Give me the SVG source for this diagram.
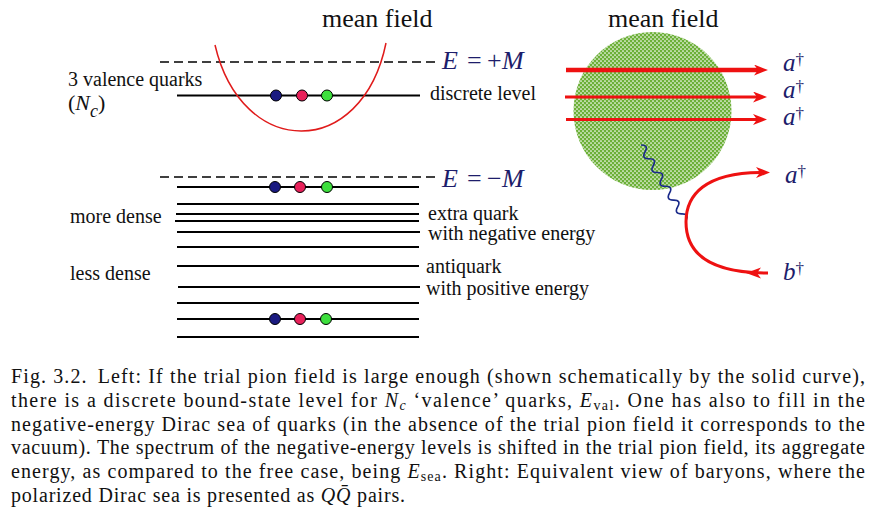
<svg xmlns="http://www.w3.org/2000/svg" width="877" height="518" viewBox="0 0 877 518">
<style>
.t{font-family:"Liberation Serif","Times New Roman",serif;fill:#111}
.lab{font-size:20px}
.ttl{font-size:26px}
.math{font-family:"Liberation Serif","Times New Roman",serif;fill:#1d1d6b}
.it{font-style:italic}
.lvl{stroke:#000;stroke-width:2.2;fill:none}
.dash{stroke:#000;stroke-width:1.3;stroke-dasharray:9 5;fill:none}
.ra{stroke:#ee1111;fill:none}
.cap{font-family:"Liberation Serif","Times New Roman",serif;font-size:20px;fill:#111}
.ad{font-size:25px}
</style>
<defs>
<pattern id="dots" width="4" height="4" patternUnits="userSpaceOnUse">
<rect width="4" height="4" fill="#6cb038"/>
<circle cx="1" cy="1" r="0.85" fill="#fff"/>
<circle cx="3" cy="3" r="0.85" fill="#fff"/>
</pattern>
<marker id="ah" markerUnits="userSpaceOnUse" viewBox="0 0 14 11" markerWidth="14" markerHeight="11" refX="4" refY="5.5" orient="auto">
<path d="M0,0 L14,5.5 L0,11 L4,5.5 z" fill="#ee1111"/>
</marker>
</defs>
<rect width="877" height="518" fill="#fff"/>

<g id="left-title"><text class="t ttl" x="322" y="27">mean field</text></g>

<g id="levels">
<line class="dash" x1="160" y1="62" x2="437" y2="62"/>
<line class="lvl" x1="177" y1="95.5" x2="420" y2="95.5"/>
<line class="dash" x1="160" y1="177" x2="437" y2="177"/>
<line class="lvl" x1="177" y1="187" x2="419" y2="187"/>
<line class="lvl" x1="177" y1="204" x2="419" y2="204"/>
<line class="lvl" x1="176" y1="214" x2="419" y2="214"/>
<line class="lvl" x1="175" y1="221" x2="419" y2="221"/>
<line class="lvl" x1="177" y1="232" x2="420" y2="232"/>
<line class="lvl" x1="177" y1="247" x2="419" y2="247"/>
<line class="lvl" x1="177" y1="266" x2="419" y2="266"/>
<line class="lvl" x1="178" y1="287" x2="420" y2="287"/>
<line class="lvl" x1="177" y1="303" x2="419" y2="303"/>
<line class="lvl" x1="177" y1="319" x2="419" y2="319"/>
<line class="lvl" x1="177" y1="337" x2="419" y2="337"/>
</g>

<g id="potential">
<path d="M215,45 C242,160 362,160 386,43" fill="none" stroke="#e01b1b" stroke-width="1.5"/>
</g>

<g id="quarks" stroke="#000" stroke-width="1">
<circle cx="276" cy="95.5" r="5.5" fill="#1a1a80"/>
<circle cx="302" cy="95.5" r="5.5" fill="#e8215a"/>
<circle cx="327" cy="95.5" r="5.5" fill="#3ddf3d"/>
<circle cx="275" cy="187" r="5.5" fill="#1a1a80"/>
<circle cx="300" cy="187" r="5.5" fill="#e8215a"/>
<circle cx="327" cy="187" r="5.5" fill="#3ddf3d"/>
<circle cx="275" cy="319" r="5.5" fill="#1a1a80"/>
<circle cx="300" cy="319" r="5.5" fill="#e8215a"/>
<circle cx="326" cy="319" r="5.5" fill="#3ddf3d"/>
</g>

<g id="left-labels">
<text class="t lab" x="68" y="86">3 valence quarks</text>
<text class="t" font-size="22" x="68" y="110">(<tspan class="it">N</tspan><tspan class="it" font-size="18" dy="7">c</tspan><tspan dy="-7">)</tspan></text>
<text class="t lab" x="70" y="223">more dense</text>
<text class="t lab" x="70" y="280">less dense</text>
<text class="t lab" x="430" y="100">discrete level</text>
<text class="t lab" x="428" y="220">extra quark</text>
<text class="t lab" x="428" y="240">with negative energy</text>
<text class="t lab" x="426" y="273">antiquark</text>
<text class="t lab" x="426" y="295">with positive energy</text>
<text class="math" font-size="26" y="69"><tspan class="it" x="442">E</tspan><tspan x="467">=</tspan><tspan x="487">+</tspan><tspan class="it" x="502">M</tspan></text>
<text class="math" font-size="26" y="187"><tspan class="it" x="442">E</tspan><tspan x="467">=</tspan><tspan x="487">−</tspan><tspan class="it" x="502">M</tspan></text>
</g>

<g id="right-title"><text class="t ttl" x="608" y="27">mean field</text></g>

<g id="mean-field-blob">
<circle cx="652.5" cy="111" r="79" fill="url(#dots)"/>
</g>

<g id="connectors">
<line class="ra" x1="566" y1="70" x2="758" y2="70" stroke-width="4.5" marker-end="url(#ah)"/>
<line class="ra" x1="565" y1="97" x2="757" y2="97" stroke-width="3" marker-end="url(#ah)"/>
<line class="ra" x1="566" y1="119.5" x2="757" y2="119.5" stroke-width="3" marker-end="url(#ah)"/>
<path d="M0,0 q4,-7 8,0 t8,0 t8,0 t8,0 t8,0 t8,0 t8,0 t8,0 t8,0 t8,0 t8,0" transform="translate(641,145) rotate(59.4)" fill="none" stroke="#1a2a8a" stroke-width="1.6"/>
<path class="ra" d="M686,222 C686,195 705,173 760,172.5" stroke-width="3" marker-end="url(#ah)"/>
<path class="ra" d="M686,222 C686,255 712,273 768,273" stroke-width="3"/>
<path d="M746,273 L761,267.5 L757,273 L761,278.5 z" fill="#ee1111"/>
</g>

<g id="right-labels">
<text class="math ad" x="783" y="71"><tspan class="it">a</tspan><tspan font-size="17" dy="-6">†</tspan></text>
<text class="math ad" x="783" y="98"><tspan class="it">a</tspan><tspan font-size="17" dy="-6">†</tspan></text>
<text class="math ad" x="783" y="125"><tspan class="it">a</tspan><tspan font-size="17" dy="-6">†</tspan></text>
<text class="math ad" x="785" y="183"><tspan class="it">a</tspan><tspan font-size="17" dy="-6">†</tspan></text>
<text class="math ad" x="783" y="280"><tspan class="it">b</tspan><tspan font-size="17" dy="-6">†</tspan></text>
</g>

<g id="caption">
<text class="cap" x="11" y="383.3" textLength="854" lengthAdjust="spacing">Fig. 3.2.<tspan dx="10">Left: If the trial pion field is large enough (shown schematically by the solid curve),</tspan></text>
<text class="cap" x="11" y="407" textLength="854" lengthAdjust="spacing">there is a discrete bound-state level for <tspan font-style="italic">N</tspan><tspan font-style="italic" font-size="14" dy="3">c</tspan><tspan dy="-3"> ‘valence’ quarks, </tspan><tspan font-style="italic">E</tspan><tspan font-size="14" dy="3">val</tspan><tspan dy="-3">.  One has also to fill in the</tspan></text>
<text class="cap" x="11" y="430.7" textLength="854" lengthAdjust="spacing">negative-energy Dirac sea of quarks (in the absence of the trial pion field it corresponds to the</text>
<text class="cap" x="11" y="454.4" textLength="854" lengthAdjust="spacing">vacuum). The spectrum of the negative-energy levels is shifted in the trial pion field, its aggregate</text>
<text class="cap" x="11" y="478.1" textLength="854" lengthAdjust="spacing">energy, as compared to the free case, being <tspan font-style="italic">E</tspan><tspan font-size="14" dy="3">sea</tspan><tspan dy="-3">.  Right: Equivalent view of baryons, where the</tspan></text>
<text class="cap" x="11" y="501.7" textLength="394" lengthAdjust="spacing">polarized Dirac sea is presented as <tspan font-style="italic">QQ̄</tspan> pairs.</text>
</g>
</svg>
